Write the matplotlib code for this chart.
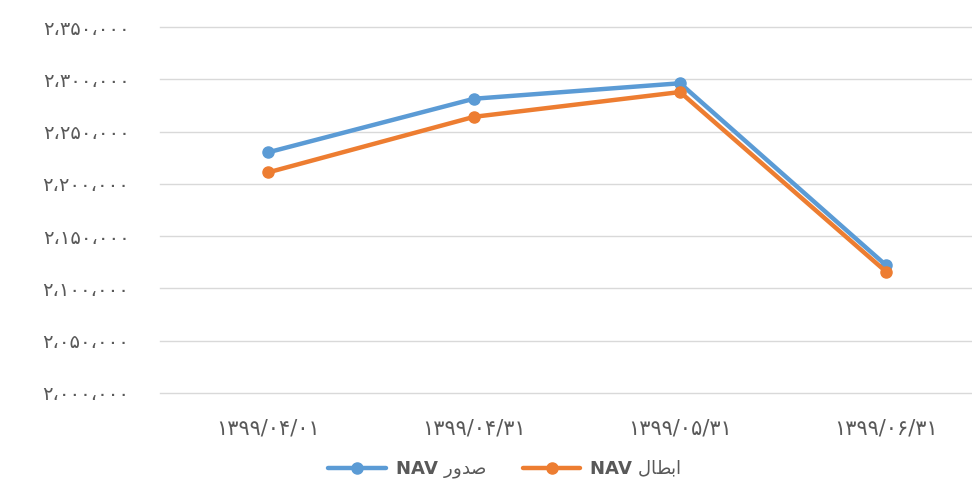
import matplotlib.pyplot as plt
from matplotlib.ticker import FixedLocator

plt.rcParams['font.family'] = ['DejaVu Sans']

# dates (Persian calendar, Persian digits)
dates = ['۱۳۹۹/۰۴/۰۱', '۱۳۹۹/۰۴/۳۱', '۱۳۹۹/۰۵/۳۱', '۱۳۹۹/۰۶/۳۱']
nav_issue = [2230100, 2281400, 2296200, 2122100]    # صدور NAV
nav_redeem = [2210900, 2264100, 2287800, 2116000]   # ابطال NAV

y_ticks = [2000000, 2050000, 2100000, 2150000, 2200000, 2250000, 2300000, 2350000]

# legend labels written in visual order with Arabic presentation forms
# ("صدور NAV" and "ابطال NAV")
label_issue = r'$\mathbf{NAV}$ ' + '\uFEAD\uFEED\uFEAA\uFEBB'
label_redeem = r'$\mathbf{NAV}$ ' + '\uFEDD\uFE8E\uFEC4\uFE91\uFE8D'

persian = str.maketrans('0123456789,', '۰۱۲۳۴۵۶۷۸۹،')


def fa_num(v):
    return f'{v:,}'.translate(persian)


blue = '#5B9BD5'
orange = '#ED7D31'
grey = '#595959'

fig = plt.figure(figsize=(9.72, 4.87), dpi=100)
ax = fig.add_axes([160 / 972, 1 - 393 / 487, 812 / 972, 366 / 487])

x = range(len(dates))
ax.plot(x, nav_issue, color=blue, lw=3.2, marker='o', ms=8, label=label_issue,
        solid_capstyle='round', zorder=3)
ax.plot(x, nav_redeem, color=orange, lw=3.2, marker='o', ms=8, label=label_redeem,
        solid_capstyle='round', zorder=4)

ax.set_ylim(2000000, 2350000)
ax.set_xlim(-0.524, 3.417)
ax.yaxis.set_major_locator(FixedLocator(y_ticks))
ax.set_yticklabels([fa_num(v) for v in y_ticks])
ax.set_xticks(list(x))
ax.set_xticklabels(dates)

ax.grid(axis='y', color='#d9d9d9', lw=1)
for gl in ax.get_ygridlines():
    gl.set_clip_on(False)
ax.set_axisbelow(True)
for s in ax.spines.values():
    s.set_visible(False)
ax.tick_params(length=0, colors=grey)
ax.tick_params(axis='y', pad=22, labelsize=14)
ax.tick_params(axis='x', pad=18, labelsize=15)

leg = fig.legend(loc='center', bbox_to_anchor=(505 / 972, 1 - 470 / 487), ncol=2,
                 frameon=False, fontsize=13, handlelength=3.2, columnspacing=2.0,
                 handletextpad=0.5)
for t in leg.get_texts():
    t.set_color(grey)

fig.savefig('out.png', dpi=100)
